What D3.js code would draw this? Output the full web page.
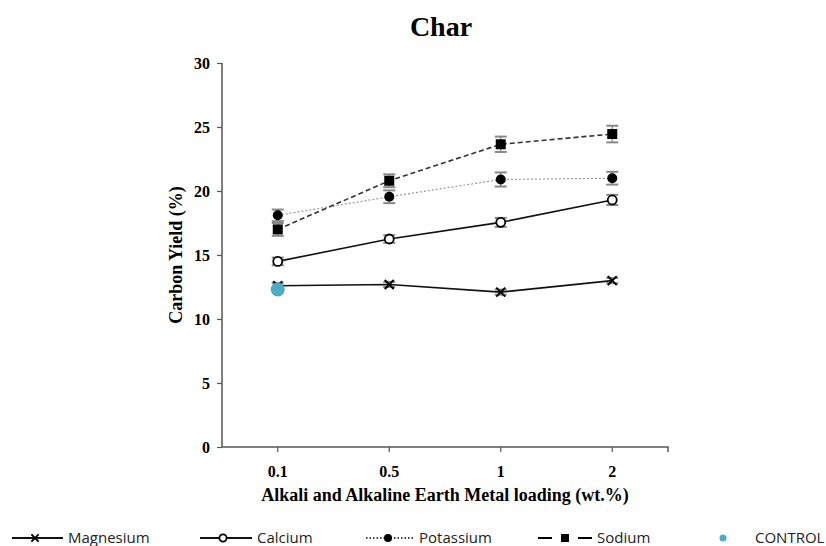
<!DOCTYPE html>
<html>
<head>
<meta charset="utf-8">
<script src="https://cdn.jsdelivr.net/npm/d3@7"></script>
<style>
  html, body { margin: 0; padding: 0; background: #fff; }
  svg { display: block; }
</style>
</head>
<body>
<div id="chart"></div>
<script>
// ---- data ----
const categories = ["0.1", "0.5", "1", "2"];
const magnesium = [12.6, 12.7, 12.1, 13.0];
const magnesiumErr = [0.2, 0.2, 0.2, 0.2];
const calcium = [14.5, 16.25, 17.55, 19.3];
const calciumErr = [0.3, 0.3, 0.35, 0.4];
const potassium = [18.1, 19.55, 20.9, 21.0];
const potassiumErr = [0.45, 0.5, 0.55, 0.5];
const sodium = [17.0, 20.8, 23.65, 24.45];
const sodiumErr = [0.5, 0.5, 0.6, 0.65];
const control = [{ cat: "0.1", value: 12.3 }];
const yTicks = [0, 5, 10, 15, 20, 25, 30];
const seriesNames = ["Magnesium", "Calcium", "Potassium", "Sodium", "CONTROL"];

const W = 826, H = 546;
const margin = { left: 222, right: 158, top: 63, bottom: 99 };
const innerW = W - margin.left - margin.right;
const innerH = H - margin.top - margin.bottom;

const svg = d3.select("#chart").append("svg").attr("width", W).attr("height", H);

const x = d3.scaleBand().domain(categories).range([margin.left, margin.left + innerW]);
const y = d3.scaleLinear().domain([0, 30]).range([margin.top + innerH, margin.top]);

const serif = "'Liberation Serif', 'Times New Roman', serif";
const sans = "'Open Sans', 'Liberation Sans', sans-serif";
const axisColor = "#555";

// title
svg.append("text").attr("x", 441).attr("y", 36).attr("text-anchor", "middle")
  .attr("font-family", serif).attr("font-weight", "bold").attr("font-size", 28).text("Char");

// y axis
const yAxis = svg.append("g").attr("transform", `translate(${margin.left},0)`)
  .call(d3.axisLeft(y).tickValues(yTicks).tickSize(5).tickPadding(7).tickFormat(d3.format("d")));
yAxis.select(".domain").attr("stroke", axisColor).attr("stroke-width", 1.5).attr("d", `M0,${y(30)}V${y(0)}`);
yAxis.selectAll(".tick line").attr("stroke", axisColor).attr("stroke-width", 1.2);
yAxis.selectAll("text").attr("font-family", serif).attr("font-weight", "bold").attr("font-size", 16).attr("fill", "#000");

// x axis
const xAxis = svg.append("g").attr("transform", `translate(0,${y(0)})`)
  .call(d3.axisBottom(x).tickSize(5).tickPadding(14));
xAxis.select(".domain").attr("stroke", axisColor).attr("stroke-width", 1.5)
  .attr("d", `M${margin.left},0H${margin.left + innerW}V5`);
xAxis.selectAll(".tick line").attr("stroke", axisColor).attr("stroke-width", 1.2);
xAxis.selectAll("text").attr("font-family", serif).attr("font-weight", "bold").attr("font-size", 16).attr("fill", "#000");

// axis titles
svg.append("text").attr("x", 445).attr("y", 501)
  .attr("text-anchor", "middle").attr("font-family", serif).attr("font-weight", "bold").attr("font-size", 18)
  .text("Alkali and Alkaline Earth Metal loading (wt.%)");
svg.append("text").attr("transform", `translate(182,${(y(0) + y(30)) / 2}) rotate(-90)`)
  .attr("text-anchor", "middle").attr("font-family", serif).attr("font-weight", "bold").attr("font-size", 18)
  .text("Carbon Yield (%)");

const cx = c => x(c) + x.bandwidth() / 2;

const series = [
  { name: "Magnesium", values: magnesium, err: magnesiumErr, marker: "x", stroke: "#111", width: 1.6, dash: null },
  { name: "Calcium", values: calcium, err: calciumErr, marker: "open", stroke: "#111", width: 1.6, dash: null },
  { name: "Potassium", values: potassium, err: potassiumErr, marker: "dot", stroke: "#999", width: 1.2, dash: "2,2" },
  { name: "Sodium", values: sodium, err: sodiumErr, marker: "square", stroke: "#333", width: 1.6, dash: "5,3" }
];

const line = d3.line().x(d => cx(d.cat)).y(d => y(d.v));

function drawMarker(g, type, px, py, scale) {
  const s = scale || 1;
  if (type === "x") {
    const r = 4.5 * s;
    g.append("path").attr("d", `M${px - r},${py - r}L${px + r},${py + r}M${px - r},${py + r}L${px + r},${py - r}`)
      .attr("stroke", "#000").attr("stroke-width", 2);
  } else if (type === "open") {
    g.append("circle").attr("cx", px).attr("cy", py).attr("r", 4.5 * s)
      .attr("fill", "#fff").attr("stroke", "#000").attr("stroke-width", 1.8);
  } else if (type === "dot") {
    g.append("circle").attr("cx", px).attr("cy", py).attr("r", 5 * s).attr("fill", "#000");
  } else if (type === "square") {
    const h = 5 * s;
    g.append("rect").attr("x", px - h).attr("y", py - h).attr("width", 2 * h).attr("height", 2 * h).attr("fill", "#000");
  }
}

const plot = svg.append("g");
series.forEach(s => {
  const data = categories.map((c, i) => ({ cat: c, v: s.values[i], e: s.err[i] }));
  // error bars
  const eb = plot.append("g");
  data.forEach(d => {
    const px = cx(d.cat);
    eb.append("line").attr("x1", px).attr("x2", px).attr("y1", y(d.v + d.e)).attr("y2", y(d.v - d.e))
      .attr("stroke", "#888").attr("stroke-width", 1.2);
    [d.v + d.e, d.v - d.e].forEach(v => {
      eb.append("line").attr("x1", px - 6).attr("x2", px + 6).attr("y1", y(v)).attr("y2", y(v))
        .attr("stroke", "#888").attr("stroke-width", 2);
    });
  });
  plot.append("path").datum(data).attr("d", line).attr("fill", "none")
    .attr("stroke", s.stroke).attr("stroke-width", s.width).attr("stroke-dasharray", s.dash);
  data.forEach(d => drawMarker(plot, s.marker, cx(d.cat), y(d.v)));
});

// control point
plot.selectAll(".control").data(control).enter().append("circle")
  .attr("cx", d => cx(d.cat)).attr("cy", d => y(d.value)).attr("r", 7).attr("fill", "#4BACC6");

// legend
const legendY = 538;
const legendItems = [
  { name: seriesNames[0], x0: 12, x1: 63, mx: 35, tx: 68, marker: "x", dash: null, stroke: "#111" },
  { name: seriesNames[1], x0: 200, x1: 252, mx: 223, tx: 257, marker: "open", dash: null, stroke: "#111" },
  { name: seriesNames[2], x0: 366, x1: 414, mx: 388, tx: 419, marker: "dot", dash: "1.5,2", stroke: "#444" },
  { name: seriesNames[3], x0: 538, x1: 592, mx: 565, tx: 597, marker: "square", dash: "14,26", stroke: "#000" },
  { name: seriesNames[4], x0: null, mx: 723, tx: 755, marker: "control" }
];
const lg = svg.append("g");
legendItems.forEach(it => {
  if (it.x0 !== null) {
    lg.append("line").attr("x1", it.x0).attr("x2", it.x1).attr("y1", legendY).attr("y2", legendY)
      .attr("stroke", it.stroke).attr("stroke-width", 2).attr("stroke-dasharray", it.dash);
  }
  if (it.marker === "control") {
    lg.append("circle").attr("cx", it.mx).attr("cy", legendY).attr("r", 3.5).attr("fill", "#4BACC6");
  } else {
    drawMarker(lg, it.marker, it.mx, legendY, 0.8);
  }
  lg.append("text").attr("x", it.tx).attr("y", legendY + 5).attr("font-family", sans).attr("font-size", 15)
    .attr("fill", "#222").text(it.name);
});
</script>
</body>
</html>
